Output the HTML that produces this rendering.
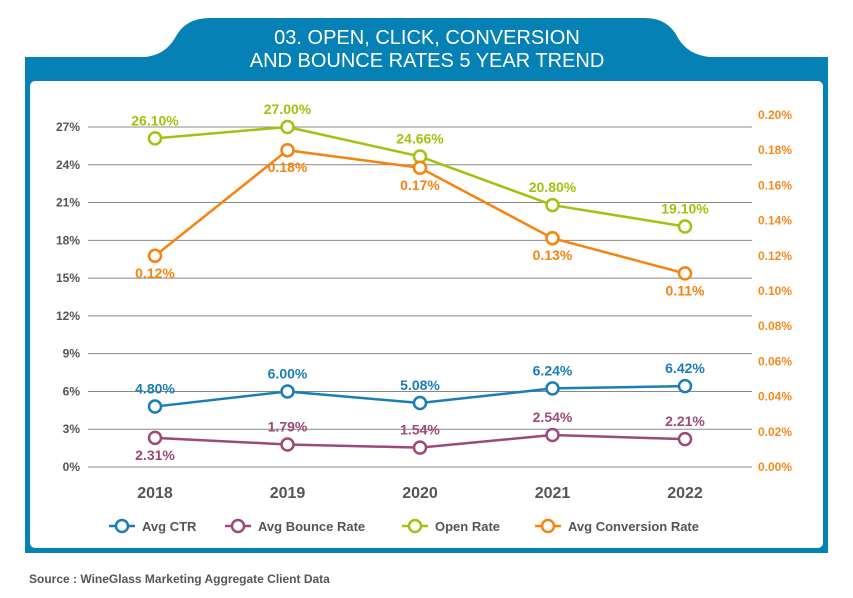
<!DOCTYPE html>
<html><head><meta charset="utf-8"><style>
body{margin:0;width:853px;height:598px;background:#fff;overflow:hidden;font-family:"Liberation Sans Narrow","Liberation Sans",sans-serif}
svg{display:block}
</style></head><body>
<svg width="853" height="598" xmlns="http://www.w3.org/2000/svg">
<path fill="#0681b5" d="M25,57 L145,57 Q165,55 175,38 Q185,18 210,18 L645,18 Q668,18 678,38 Q688,55 710,57 L828,57 L828,553 L25,553 Z"/>
<rect x="30" y="81" width="793" height="467" rx="5" fill="#fff"/>
<text x="427" y="44" text-anchor="middle" fill="#fff" font-size="20" font-family="Liberation Sans,sans-serif">03. OPEN, CLICK, CONVERSION</text>
<text x="427" y="67" text-anchor="middle" fill="#fff" font-size="20" font-family="Liberation Sans,sans-serif">AND BOUNCE RATES 5 YEAR TREND</text>
<g id="g"></g>
<text x="29" y="583" fill="#555" font-size="12" font-weight="bold">Source :  WineGlass Marketing Aggregate Client Data</text>
</svg>
<script>
const years=["2018","2019","2020","2021","2022"];
const ctr=[4.80,6.00,5.08,6.24,6.42];
const bounce=[2.31,1.79,1.54,2.54,2.21];
const openRate=[26.10,27.00,24.66,20.80,19.10];
const conv=[0.12,0.18,0.17,0.13,0.11];
const leftTicks=[0,3,6,9,12,15,18,21,24,27];
const rightTicks=[0,0.02,0.04,0.06,0.08,0.10,0.12,0.14,0.16,0.18,0.20];
const NS="http://www.w3.org/2000/svg",g=document.getElementById('g');
const xs=i=>155+i*132.5, yl=v=>467-v*(340/27), yr=v=>467-v*(352/0.20);
function el(t,a,txt){const e=document.createElementNS(NS,t);for(const k in a)e.setAttribute(k,a[k]);if(txt!=null)e.textContent=txt;g.appendChild(e);return e;}
leftTicks.forEach(v=>{
 const l=el('line',{x1:88,x2:752,y1:yl(v),y2:yl(v),stroke:'#888','stroke-width':1});
 
 const t=el('text',{x:80,y:yl(v)+4,'text-anchor':'end','font-size':12,fill:'#555','font-weight':'bold'},v+'%');
 
});
rightTicks.forEach(v=>{
 const t=el('text',{x:758,y:yr(v)+4,'font-size':12,fill:'#f7891f','font-weight':'bold'},v.toFixed(2)+'%');
 
});
years.forEach((y,i)=>{
 const t=el('text',{x:xs(i),y:498,'text-anchor':'middle','font-size':16,'font-weight':'bold',fill:'#555'},y);
 
});
function series(name,vals,sc,col,pos){
 const p=el('polyline',{points:vals.map((v,i)=>xs(i)+','+sc(v)).join(' '),fill:'none',stroke:col,'stroke-width':2.5});
 
 vals.forEach((v,i)=>{
  const c=el('circle',{cx:xs(i),cy:sc(v),r:6,fill:'#fff',stroke:col,'stroke-width':2.5});
  
  const dy=pos[i]==='a'?-13:22;
  const t=el('text',{x:xs(i),y:sc(v)+dy,'text-anchor':'middle','font-size':14,'font-weight':'bold',fill:col},v.toFixed(2)+'%');
  
 });
}
series('ctr',ctr,yl,'#1a7db6',['a','a','a','a','a']);
series('bounce',bounce,yl,'#9b4a7a',['b','a','a','a','a']);
series('open-rate',openRate,yl,'#a3c10f',['a','a','a','a','a']);
series('conversion',conv,yr,'#f8820e',['b','b','b','b','b']);
const leg=[['Avg CTR','#1a7db6',122],['Avg Bounce Rate','#9b4a7a',238],['Open Rate','#a3c10f',415],['Avg Conversion Rate','#f8820e',548]];
leg.forEach(([n,c,x])=>{
 const l=el('line',{x1:x-13,x2:x+13,y1:526,y2:526,stroke:c,'stroke-width':2.5});
 
 const ci=el('circle',{cx:x,cy:526,r:6,fill:'#fff',stroke:c,'stroke-width':2.5});
 
 const t=el('text',{x:x+20,y:531,'font-size':13,'font-weight':'bold',fill:'#555'},n);
 
});
</script>
</body></html>
